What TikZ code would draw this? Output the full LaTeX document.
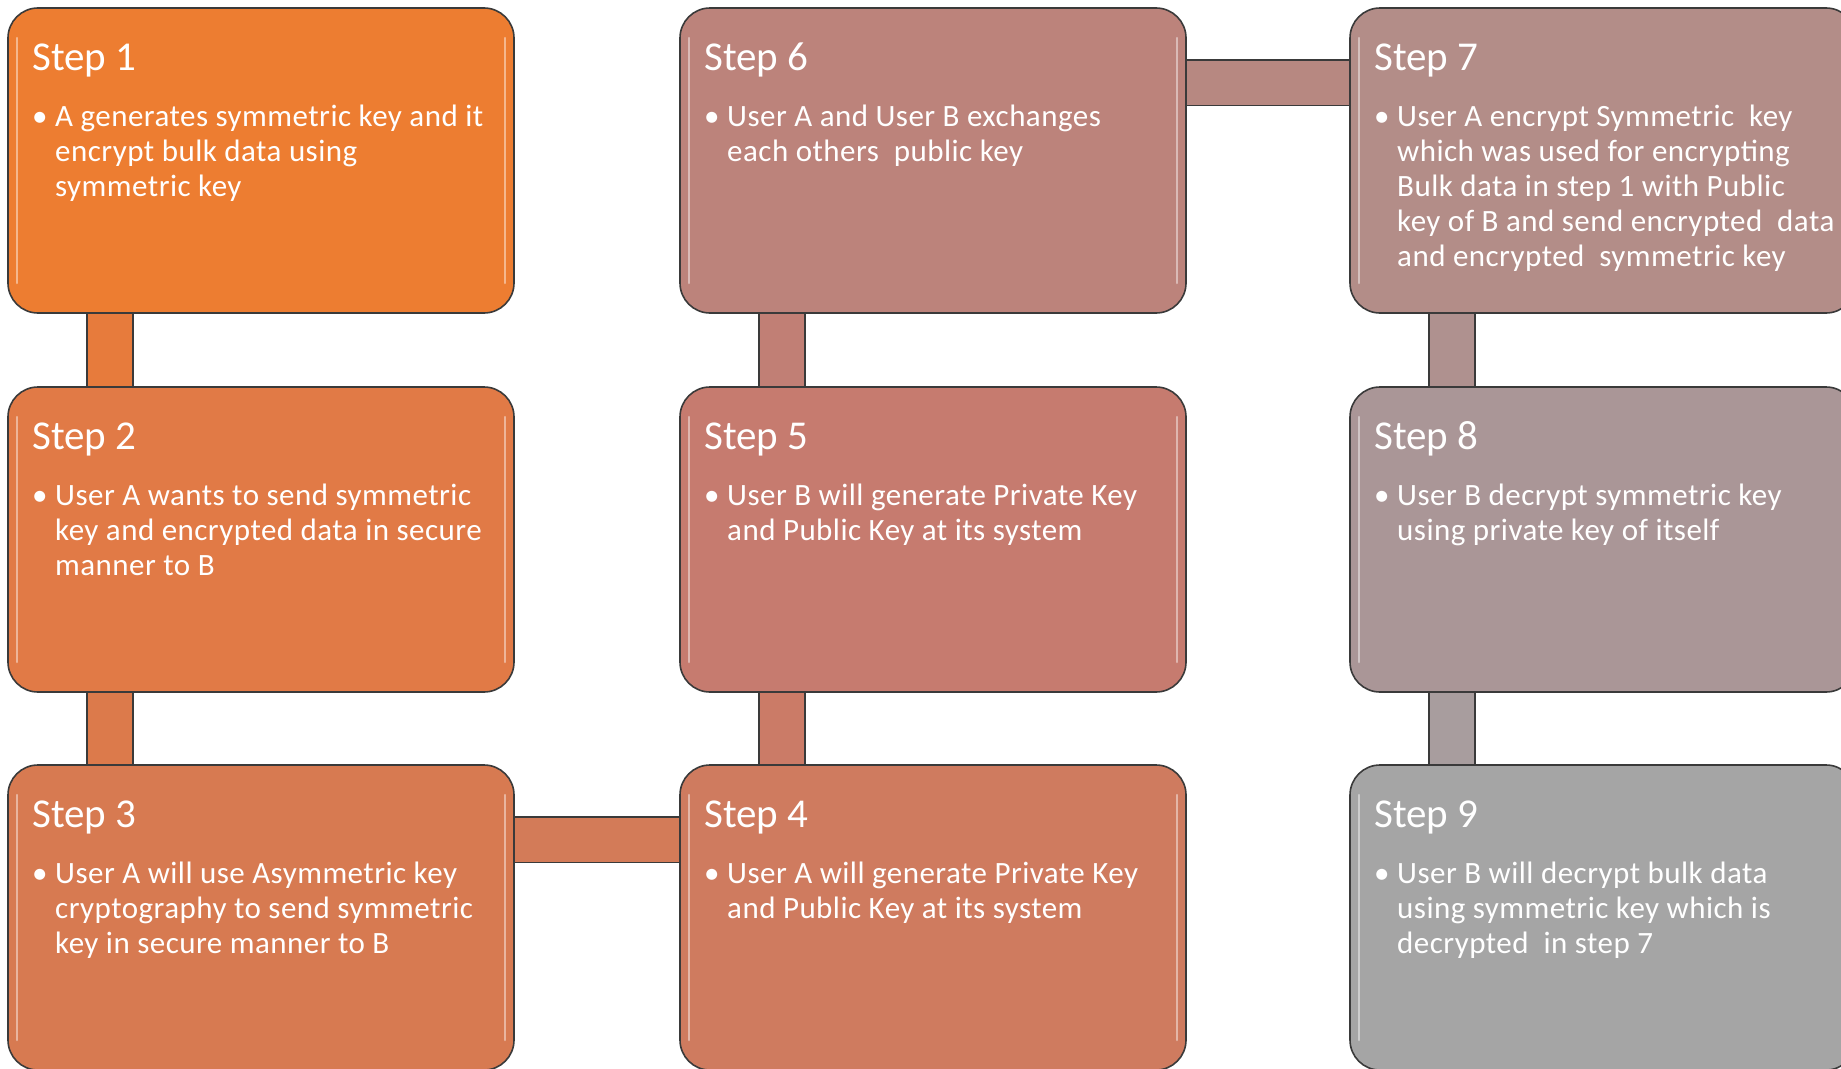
\documentclass[tikz,border=0pt]{standalone}
\usepackage{fontspec}
\setmainfont{Carlito}
\usetikzlibrary{calc}
\pgfdeclarelayer{background}
\pgfsetlayers{background,main}

% fill colours, orange fading to grey along the steps
\definecolor{c1}{HTML}{ED7D31}
\definecolor{c2}{HTML}{E17A46}
\definecolor{c3}{HTML}{D77A51}
\definecolor{c4}{HTML}{CF7B5F}
\definecolor{c5}{HTML}{C67B6F}
\definecolor{c6}{HTML}{BC837B}
\definecolor{c7}{HTML}{B38D88}
\definecolor{c8}{HTML}{AA9697}
\definecolor{c9}{HTML}{A5A5A5}
\definecolor{edge}{HTML}{3A3A3A}

\tikzset{
  x=1pt, y=-1pt,
  stepbox/.style={draw=edge, line width=1.6pt, rounded corners=30pt,
    minimum width=506pt, minimum height=305pt, anchor=north west,
    inner sep=0pt, outer sep=0pt},
  steptitle/.style={anchor=base west, inner sep=0pt, text=white,
    font=\fontsize{41}{49}\selectfont},
  stepbody/.style={anchor=base west, inner sep=0pt, text=white,
    font=\fontsize{31}{35}\selectfont\addfontfeature{LetterSpace=1.5}},
  link/.style={line width=1.6pt, draw=edge, double distance=44pt},
  gloss/.style={draw=white, draw opacity=0.45, line width=2.5pt, line cap=round},
}

% bullet list with a hanging indent
\newcommand{\bulletlines}[1]{\begin{tabular}[t]{@{}l@{}l@{}}\makebox[23pt][l]{\textbullet} & #1\end{tabular}}

\begin{document}
\begin{tikzpicture}
\useasboundingbox (0,0) rectangle (1841,1068);
\clip (0,0) rectangle (1841,1068);

% boxes
\node[stepbox, fill=c1] (s1) at (8,8) {};
\node[stepbox, fill=c2] (s2) at (8,387) {};
\node[stepbox, fill=c3] (s3) at (8,765) {};
\node[stepbox, fill=c4] (s4) at (680,765) {};
\node[stepbox, fill=c5] (s5) at (680,387) {};
\node[stepbox, fill=c6] (s6) at (680,8) {};
\node[stepbox, fill=c7] (s7) at (1350,8) {};
\node[stepbox, fill=c8] (s8) at (1350,387) {};
\node[stepbox, fill=c9] (s9) at (1350,765) {};

% glossy bevel highlights
\foreach \s in {s1,s2,s3,s4,s5,s6,s7,s8,s9}{
  \draw[gloss] ([xshift=9pt,yshift=-30pt]\s.north west) -- ([xshift=9pt,yshift=30pt]\s.south west);
  \draw[gloss] ([xshift=-9pt,yshift=-30pt]\s.north east) -- ([xshift=-9pt,yshift=30pt]\s.south east);
}

% titles
\foreach \s/\n in {s1/1,s2/2,s3/3,s4/4,s5/5,s6/6,s7/7,s8/8,s9/9}{
  \node[steptitle] (\s h) at ([xshift=24pt,yshift=-62pt]\s.north west) {Step \n};
}

% bullet texts
\node[stepbody] (s1b) at ([xshift=24pt,yshift=-118pt]s1.north west)
  {\bulletlines{A generates symmetric key and it\\ & encrypt bulk data using\\ & symmetric key}};
\node[stepbody] (s2b) at ([xshift=24pt,yshift=-118pt]s2.north west)
  {\bulletlines{User A wants to send symmetric\\ & key and encrypted data in secure\\ & manner to B}};
\node[stepbody] (s3b) at ([xshift=24pt,yshift=-118pt]s3.north west)
  {\bulletlines{User A will use Asymmetric key\\ & cryptography to send symmetric\\ & key in secure manner to B}};
\node[stepbody] (s4b) at ([xshift=24pt,yshift=-118pt]s4.north west)
  {\bulletlines{User A will generate Private Key\\ & and Public Key at its system}};
\node[stepbody] (s5b) at ([xshift=24pt,yshift=-118pt]s5.north west)
  {\bulletlines{User B will generate Private Key\\ & and Public Key at its system}};
\node[stepbody] (s6b) at ([xshift=24pt,yshift=-118pt]s6.north west)
  {\bulletlines{User A and User B exchanges\\ & each others\ \ public key}};
\node[stepbody] (s7b) at ([xshift=24pt,yshift=-118pt]s7.north west)
  {\bulletlines{User A encrypt Symmetric\ \ key\\ & which was used for encrypting\\ & Bulk data in step 1 with Public\\ & key of B and send encrypted\ \ data\\ & and encrypted\ \ symmetric key}};
\node[stepbody] (s8b) at ([xshift=24pt,yshift=-118pt]s8.north west)
  {\bulletlines{User B decrypt symmetric key\\ & using private key of itself}};
\node[stepbody] (s9b) at ([xshift=24pt,yshift=-118pt]s9.north west)
  {\bulletlines{User B will decrypt bulk data\\ & using symmetric key which is\\ & decrypted\ \ in step 7}};

% connecting bars, behind the boxes
\begin{pgfonlayer}{background}
  \draw[link, double=c1!50!c2] ([xshift=102pt]s1.south west) -- ([xshift=102pt]s2.north west);
  \draw[link, double=c2!50!c3] ([xshift=102pt]s2.south west) -- ([xshift=102pt]s3.north west);
  \draw[link, double=c3!50!c4] ([yshift=-74.5pt]s3.north east) -- ([yshift=-74.5pt]s4.north west);
  \draw[link, double=c4!50!c5] ([xshift=102pt]s4.north west) -- ([xshift=102pt]s5.south west);
  \draw[link, double=c5!50!c6] ([xshift=102pt]s5.north west) -- ([xshift=102pt]s6.south west);
  \draw[link, double=c6!50!c7] ([yshift=-74.5pt]s6.north east) -- ([yshift=-74.5pt]s7.north west);
  \draw[link, double=c7!50!c8] ([xshift=102pt]s7.south west) -- ([xshift=102pt]s8.north west);
  \draw[link, double=c8!50!c9] ([xshift=102pt]s8.south west) -- ([xshift=102pt]s9.north west);
\end{pgfonlayer}
\end{tikzpicture}
\end{document}
